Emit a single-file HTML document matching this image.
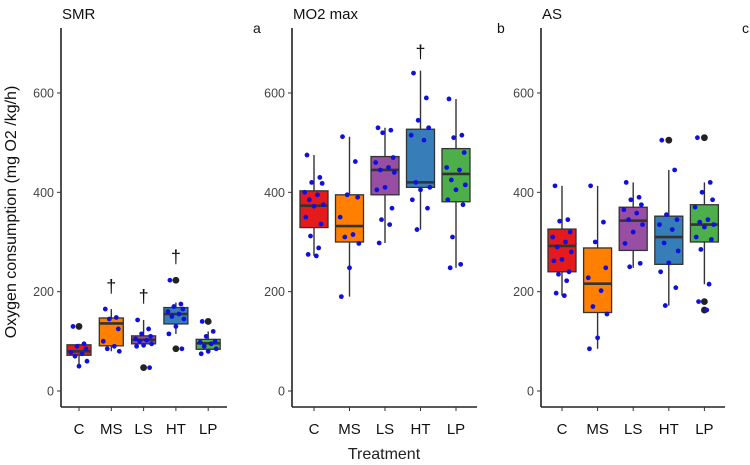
<!DOCTYPE html>
<html><head><meta charset="utf-8"><style>
html,body{margin:0;padding:0;background:#fff;}
svg{display:block;font-family:"Liberation Sans",Arial,sans-serif;}
</style></head><body>
<svg id="chart" width="750" height="465" viewBox="0 0 750 465" xmlns="http://www.w3.org/2000/svg">
<text x="0" y="0" transform="translate(16,212) rotate(-90)" text-anchor="middle" font-size="16" fill="#111">Oxygen consumption (mg O2 /kg/h)</text>
<text x="384" y="459" text-anchor="middle" font-size="16" fill="#222">Treatment</text>
</svg>
<script>
const categories = ["C","MS","LS","HT","LP"];
const yTicks = [0,200,400,600];
const panelTitles = ["SMR","MO2 max","AS"];
const panelLetters = ["a","b","c"];
// box stats per panel: [q1, median, q3, whiskerLow, whiskerHigh]
const smrStats = [[72,80,93,50,95],[91,136,147,80,165],[95,103,111,88,143],[135,155,168,115,178],[84,96,104,75,120]];
const mo2Stats = [[329,373,403,272,475],[300,332,395,190,512],[395,445,472,298,530],[410,420,527,325,645],[381,437,488,248,588]];
const asStats = [[240,292,326,192,413],[158,216,288,85,413],[283,343,370,248,420],[255,310,352,172,445],[300,335,375,215,420]];
const smrOutliers = [[130],[],[47],[223,85],[140]];
const mo2Outliers = [[],[],[],[],[]];
const asOutliers = [[],[],[],[505],[510,180,163]];
const smrPoints = [[130,95,90,85,78,75,70,60,50],[165,148,145,125,100,90,85,80],[143,125,115,110,105,102,100,95,92,90,47],[223,175,170,165,160,155,150,145,130,115,85],[140,120,110,100,98,95,90,85,80,75]];
const mo2Points = [[475,430,420,418,400,395,385,375,372,350,336,312,288,275,272],[512,462,395,390,350,315,310,297,248,190],[530,525,520,470,460,450,445,440,410,405,368,345,335,298],[640,590,545,530,515,505,420,410,405,385,368,325],[588,515,510,480,450,445,425,415,405,385,375,310,255,248]];
const asPoints = [[413,345,342,320,310,300,290,280,265,262,240,235,222,197,192],[413,340,300,248,228,202,170,155,107,85],[420,390,385,375,365,358,345,335,320,297,257,250],[505,445,355,345,335,325,298,282,258,240,208,172],[510,420,400,385,370,345,340,335,330,310,305,285,215,180,163]];
const smrDaggers = [null,210,190,270,null];
const mo2Daggers = [null,null,null,683,null];
const asDaggers = [null,null,null,null,null];

const colors = ["#e41a1c","#ff7f00","#984ea3","#377eb8","#4daf4a"];
const jit = [-6,5,-2,7,-8,3,-4,8,0,-7,6,-3,4,-5,2];
const panels = [
 {stats:smrStats,out:smrOutliers,pts:smrPoints,dag:smrDaggers,ax:61,end:227,c0:79,step:32.3,bw:24,name:"smr"},
 {stats:mo2Stats,out:mo2Outliers,pts:mo2Points,dag:mo2Daggers,ax:292,end:477,c0:314,step:35.5,bw:28,name:"mo2-max"},
 {stats:asStats,out:asOutliers,pts:asPoints,dag:asDaggers,ax:541,end:725,c0:562,step:35.6,bw:28,name:"as"}
];
const svg = document.getElementById('chart');
const NS = "http://www.w3.org/2000/svg";
function yScale(v){return 391 - v*0.4967;}
function mk(tag,attrs,parent){const e=document.createElementNS(NS,tag);for(const k in attrs)e.setAttribute(k,attrs[k]);(parent||svg).appendChild(e);return e;}
panels.forEach((p,pi)=>{
  const g = mk('g',{});
  
  
  const xS = i => p.c0 + i*p.step;
  const t = mk('text',{x:p.ax+1,y:19,'font-size':15,fill:'#111'},g);
  t.textContent = panelTitles[pi];
  
  
  const lt = mk('text',{x:[253,497,742][pi],y:33,'font-size':14,fill:'#111'},g);
  lt.textContent = panelLetters[pi];
  
  
  const yax = mk('line',{x1:p.ax,y1:28,x2:p.ax,y2:407,stroke:'#222','stroke-width':1.6},g);
  
  
  const xax = mk('line',{x1:p.ax,y1:407,x2:p.end,y2:407,stroke:'#222','stroke-width':1.6},g);
  
  
  yTicks.forEach(v=>{
    mk('line',{x1:p.ax-4,y1:yScale(v),x2:p.ax,y2:yScale(v),stroke:'#333'},g);
    const tl = mk('text',{x:p.ax-7,y:yScale(v)+4.5,'text-anchor':'end','font-size':12.5,fill:'#444'},g);
    tl.textContent = v;
    
    
  });
  categories.forEach((c,i)=>{
    const x = xS(i);
    mk('line',{x1:x,y1:407,x2:x,y2:411,stroke:'#333'},g);
    const cl = mk('text',{x:x,y:434,'text-anchor':'middle','font-size':15,fill:'#111'},g);
    cl.textContent = c;
    
    
    const s = p.stats[i];
    const wh = mk('line',{x1:x,y1:yScale(s[3]),x2:x,y2:yScale(s[4]),stroke:'#333','stroke-width':1.4},g);
    
    
    const bx = mk('rect',{x:x-p.bw/2,y:yScale(s[2]),width:p.bw,height:yScale(s[0])-yScale(s[2]),fill:colors[i],stroke:'#333','stroke-width':1.3},g);
    
    
    const md = mk('line',{x1:x-p.bw/2,y1:yScale(s[1]),x2:x+p.bw/2,y2:yScale(s[1]),stroke:'#333','stroke-width':2.6},g);
    
    
    p.out[i].forEach(v=>{
      const o = mk('circle',{cx:x,cy:yScale(v),r:3.4,fill:'#222'},g);
      
      
    });
    p.pts[i].forEach((v,k)=>{
      const pt = mk('circle',{cx:x+jit[k%jit.length]*p.bw/24,cy:yScale(v),r:2.4,fill:'#1010dd'},g);
      
      
    });
    if(p.dag[i]!==null){
      const d = mk('text',{x:x,y:yScale(p.dag[i])+6,'text-anchor':'middle','font-size':18,fill:'#111'},g);
      d.textContent = '†';
      
      
    }
  });
});
</script>
</body></html>
